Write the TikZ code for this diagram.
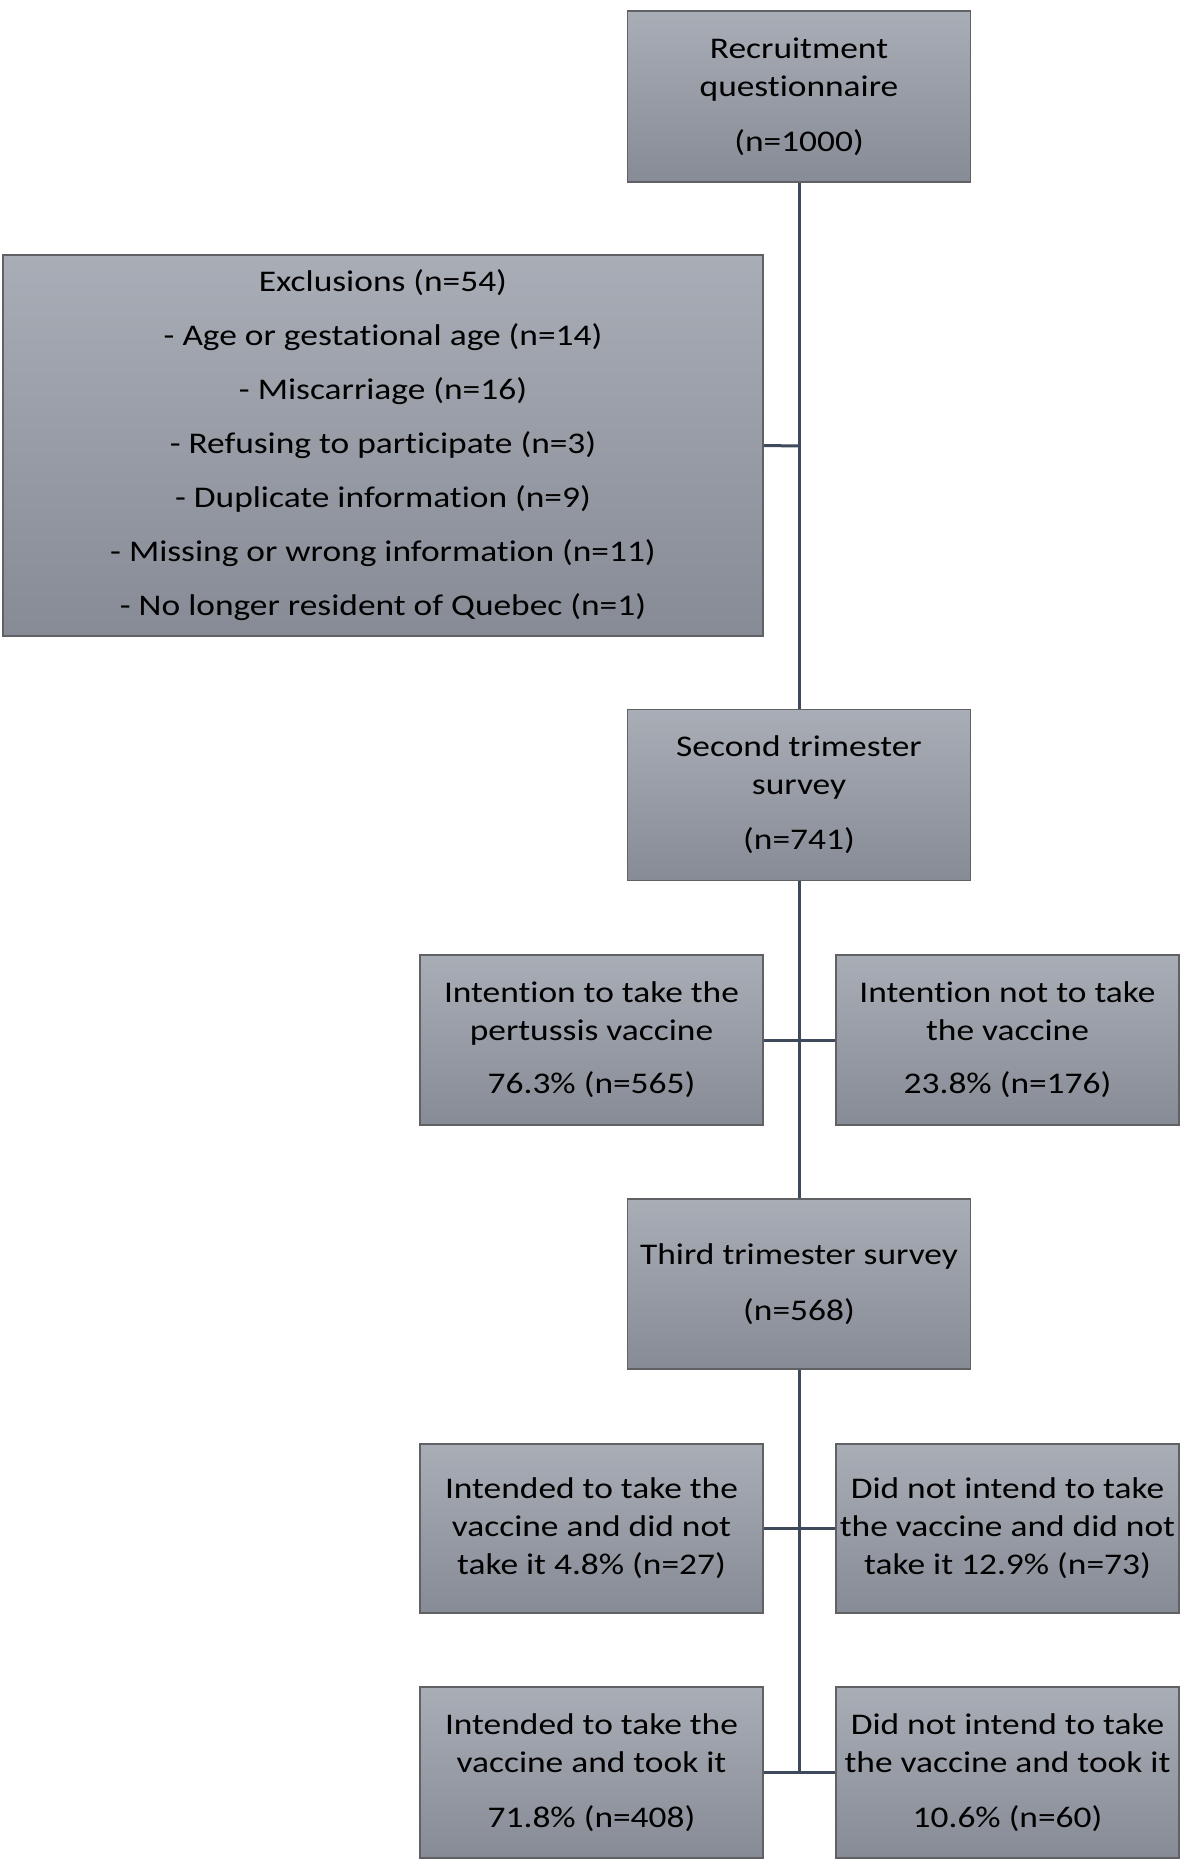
\documentclass[tikz,border=0pt]{standalone}
\usepackage{fontspec}
\setmainfont[FakeStretch=1.18,Ligatures={NoCommon}]{Carlito}
\definecolor{boxtop}{RGB}{168,173,182}
\definecolor{boxbot}{RGB}{134,139,149}
\definecolor{boxline}{RGB}{95,97,101}
\definecolor{connline}{RGB}{62,74,92}
\begin{document}
\begin{tikzpicture}[x=1pt,y=-1pt,
  flowbox/.style={draw=boxline, line width=1.5pt, top color=boxtop, bottom color=boxbot,
    shading angle=0, inner sep=0pt, minimum width=343pt, minimum height=171pt,
    align=center, font=\fontsize{30}{38}\selectfont, text=black},
  conn/.style={draw=connline, line width=3pt}]
\useasboundingbox (0,0) rectangle (1184,1860);
\fill[white] (0,0) rectangle (1184,1860);

\node[flowbox] (rec) at (799,96.5) {Recruitment\\questionnaire\\[17pt](n=1000)};
\node[flowbox, minimum width=760pt, minimum height=381pt] (excl) at (383,445.5)
  {Exclusions (n=54)\\[16pt]- Age or gestational age (n=14)\\[16pt]- Miscarriage (n=16)\\[16pt]- Refusing to participate (n=3)\\[16pt]- Duplicate information (n=9)\\[16pt]- Missing or wrong information (n=11)\\[16pt]- No longer resident of Quebec (n=1)};
\node[flowbox] (sec) at (799,795) {Second trimester\\survey\\[17pt](n=741)};
\node[flowbox, minimum height=170pt] (int1) at (591.5,1040) {Intention to take the\\pertussis vaccine\\[15pt]76.3\% (n=565)};
\node[flowbox, minimum height=170pt] (int2) at (1007.5,1040) {Intention not to take\\the vaccine\\[15pt]23.8\% (n=176)};
\node[flowbox, minimum height=170pt] (third) at (799,1284) {Third trimester survey\\[18pt](n=568)};
\node[flowbox, minimum height=169pt] (r3l) at (591.5,1528.5) {Intended to take the\\vaccine and did not\\take it 4.8\% (n=27)};
\node[flowbox, minimum height=169pt] (r3r) at (1007.5,1528.5) {Did not intend to take\\the vaccine and did not\\take it 12.9\% (n=73)};
\node[flowbox] (r4l) at (591.5,1772.5) {Intended to take the\\vaccine and took it\\[17pt]71.8\% (n=408)};
\node[flowbox] (r4r) at (1007.5,1772.5) {Did not intend to take\\the vaccine and took it\\[17pt]10.6\% (n=60)};

\coordinate (jexcl) at (799,446);
\coordinate (jend) at (799,1772.5);

\draw[conn] (rec.south) -- (sec.north);
\draw[conn] (excl.east) -- (jexcl);
\draw[conn] (sec.south) -- (third.north);
\draw[conn] (int1.east) -- (int2.west);
\draw[conn] (third.south) -- (jend);
\draw[conn] (r3l.east) -- (r3r.west);
\draw[conn] (r4l.east) -- (r4r.west);
\end{tikzpicture}
\end{document}
